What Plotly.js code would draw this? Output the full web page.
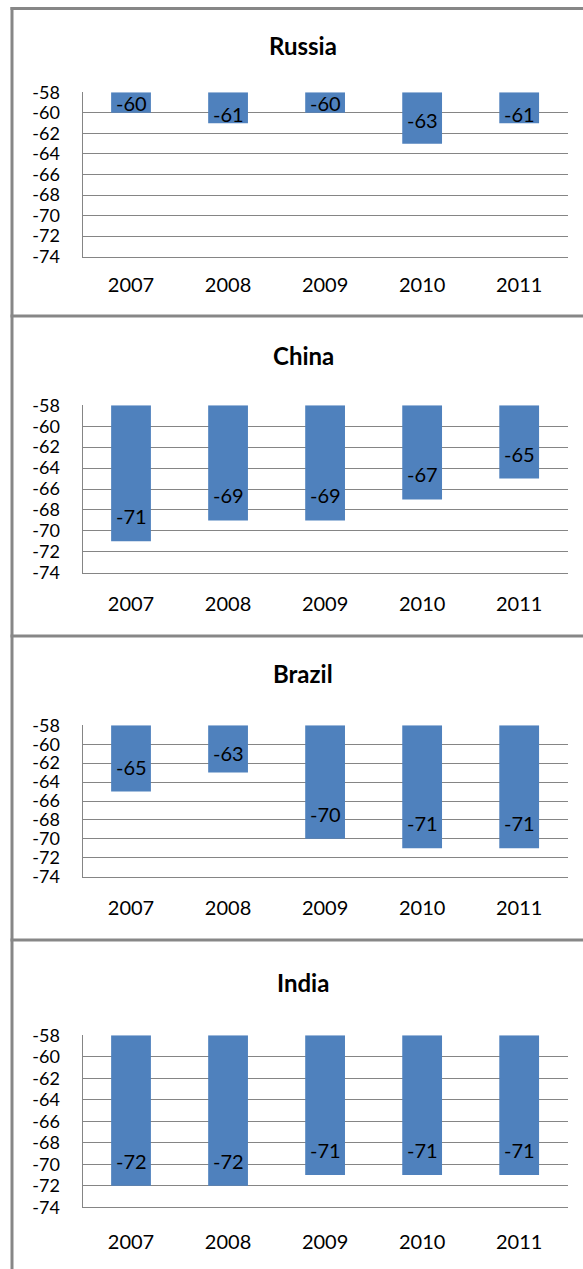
<!DOCTYPE html>
<html>
<head>
<meta charset="utf-8">
<script src="https://cdn.plot.ly/plotly-3.0.1.min.js"></script>
<style>
  html, body { margin: 0; padding: 0; background: #ffffff; }
  #chart { width: 583px; height: 1269px; }
</style>
</head>
<body>
<div id="chart"></div>
<script>
// ---------- data ----------
const years = ['2007', '2008', '2009', '2010', '2011'];
const countries = ['Russia', 'China', 'Brazil', 'India'];
const russia = [-60, -61, -60, -63, -61];
const china  = [-71, -69, -69, -67, -65];
const brazil = [-65, -63, -70, -71, -71];
const india  = [-72, -72, -71, -71, -71];
const yTickVals = [-58, -60, -62, -64, -66, -68, -70, -72, -74];
const yTickText = ['-58', '-60', '-62', '-64', '-66', '-68', '-70', '-72', '-74'];
const axisTop = -58;
const axisBottom = -74;

// ---------- styling / geometry (pixels) ----------
const W = 583, H = 1269;
const plotLeft = 82.5, plotRight = 567.7;
const plotTop    = [92.3, 405.3, 725.3, 1035.3];
const plotBottom = [256.7, 572.7, 876.7, 1207.3];
const titleY     = [45, 356, 673, 982];
const xStandoff  = [10, 13, 13, 17];
const borderColor = '#878787';
const gridColor = '#858585';
const barColor = '#4F81BD';
const FONT = 'Lato, "Open Sans", sans-serif';

const series = [russia, china, brazil, india];
const px = v => v / W;
const py = v => 1 - v / H;

const traces = [];
const annotations = [];
const layout = {
  width: W, height: H,
  margin: {l: 0, r: 0, t: 0, b: 0},
  paper_bgcolor: '#ffffff',
  plot_bgcolor: '#ffffff',
  showlegend: false,
  bargap: 0.59,
  font: {family: FONT, color: '#000000'},
  annotations: annotations,
  shapes: []
};

series.forEach((vals, i) => {
  const n = i === 0 ? '' : String(i + 1);
  traces.push({
    type: 'bar',
    x: years,
    y: vals.map(v => v - axisTop),
    base: axisTop,
    xaxis: 'x' + n,
    yaxis: 'y' + n,
    marker: {color: barColor},
    hoverinfo: 'none'
  });
  layout['xaxis' + n] = {
    domain: [px(plotLeft), px(plotRight)],
    anchor: 'y' + n,
    type: 'category',
    categoryorder: 'array',
    categoryarray: years,
    range: [-0.5, years.length - 0.5],
    showgrid: false,
    showline: true,
    linecolor: gridColor,
    linewidth: 1,
    ticks: 'outside',
    ticklen: xStandoff[i],
    tickcolor: 'rgba(0,0,0,0)',
    tickfont: {family: FONT, size: 20, color: '#000000'},
    fixedrange: true
  };
  layout['yaxis' + n] = {
    domain: [py(plotBottom[i]), py(plotTop[i])],
    anchor: 'x' + n,
    range: [axisBottom, axisTop],
    tickmode: 'array',
    tickvals: yTickVals,
    ticktext: yTickText,
    showgrid: true,
    gridcolor: gridColor,
    gridwidth: 1,
    zeroline: false,
    showline: true,
    linecolor: gridColor,
    linewidth: 1,
    ticks: 'outside',
    ticklen: 18,
    tickcolor: 'rgba(0,0,0,0)',
    tickfont: {family: FONT, size: 18, color: '#000000'},
    fixedrange: true
  };
  annotations.push({
    xref: 'paper', yref: 'paper',
    x: px(303), y: py(titleY[i]),
    xanchor: 'center', yanchor: 'middle',
    text: '<b>' + countries[i] + '</b>',
    showarrow: false,
    font: {family: FONT, size: 24, color: '#000000'}
  });
  const pxPerUnit = (plotBottom[i] - plotTop[i]) / (axisTop - axisBottom);
  vals.forEach((v, j) => {
    const h = (axisTop - v) * pxPerUnit;
    const shift = Math.min(25, Math.max(9.5, h - 28));
    annotations.push({
      xref: 'x' + n, yref: 'y' + n,
      x: j, y: v,
      yshift: shift,
      xanchor: 'center', yanchor: 'middle',
      text: String(v),
      showarrow: false,
      font: {family: FONT, size: 20, color: '#000000'}
    });
  });
});

const bw = 3;
layout.shapes.push({type: 'line', xref: 'paper', yref: 'paper',
  x0: px(12), x1: px(12), y0: py(7), y1: 0, line: {color: borderColor, width: bw}});
[8.5, 316, 636, 940].forEach(yy => {
  layout.shapes.push({type: 'line', xref: 'paper', yref: 'paper',
    x0: px(10.5), x1: 1, y0: py(yy), y1: py(yy), line: {color: borderColor, width: bw}});
});

Plotly.newPlot('chart', traces, layout, {staticPlot: true, displayModeBar: false});
</script>
</body>
</html>
